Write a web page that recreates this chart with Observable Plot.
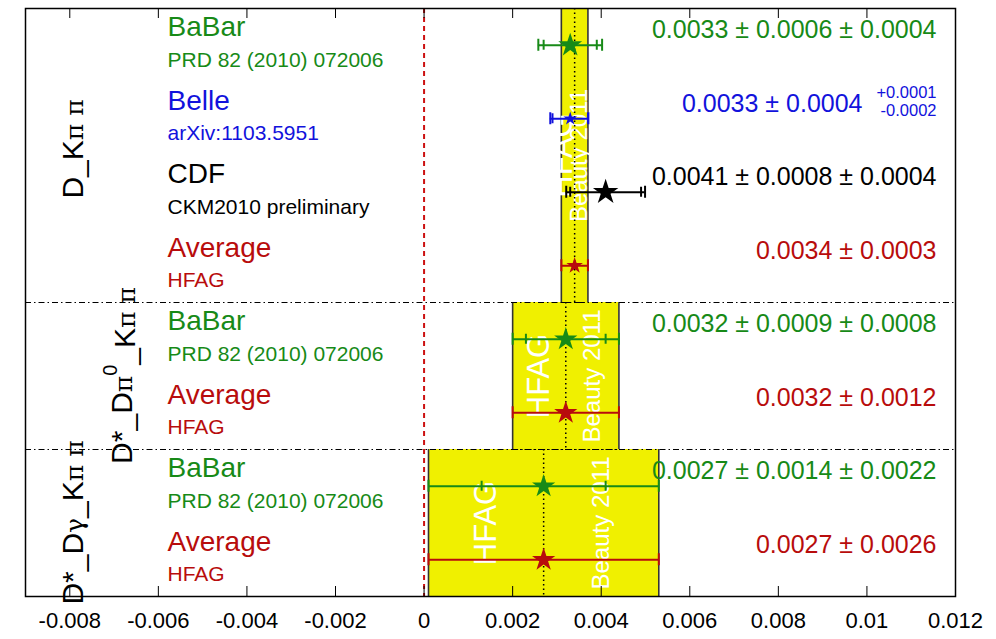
<!DOCTYPE html>
<html>
<head>
<meta charset="utf-8">
<script src="https://cdn.jsdelivr.net/npm/d3@7"></script>
<script src="https://cdn.jsdelivr.net/npm/@observablehq/plot@0.6"></script>
<style>
  html, body { margin: 0; padding: 0; background: #fff; }
  #chart { width: 996px; height: 639px; }
</style>
</head>
<body>
<div id="chart"></div>
<script>
// ---------- data ----------
const names    = ["BaBar", "Belle", "CDF", "Average", "BaBar", "Average", "BaBar", "Average"];
const refs     = ["PRD 82 (2010) 072006", "arXiv:1103.5951", "CKM2010 preliminary", "HFAG",
                  "PRD 82 (2010) 072006", "HFAG", "PRD 82 (2010) 072006", "HFAG"];
const values   = [0.0033, 0.0033, 0.0041, 0.0034, 0.0032, 0.0032, 0.0027, 0.0027];
const totalLo  = [0.00258, 0.00285, 0.00321, 0.0031, 0.0020, 0.0020, 0.0001, 0.0001];
const totalHi  = [0.00402, 0.00371, 0.00499, 0.0037, 0.0044, 0.0044, 0.0053, 0.0053];
const statLo   = [0.0027, 0.0029, 0.0033, null, 0.0023, null, 0.0013, null];
const statHi   = [0.0039, 0.0037, 0.0049, null, 0.0041, null, 0.0041, null];
const valueTexts = ["0.0033 ± 0.0006 ± 0.0004", "0.0033 ± 0.0004", "0.0041 ± 0.0008 ± 0.0004",
                    "0.0034 ± 0.0003", "0.0032 ± 0.0009 ± 0.0008", "0.0032 ± 0.0012",
                    "0.0027 ± 0.0014 ± 0.0022", "0.0027 ± 0.0026"];
const experiments = ["BaBar", "Belle", "CDF", "Average", "BaBar", "Average", "BaBar", "Average"];
const belleAsym = ["+0.0001", "-0.0002"];

const groupNames  = ["D_Kπ π", "D*_Dπ0_Kπ π", "D*_Dγ_Kπ π"];
const groupStart  = [0, 4, 6];
const groupEnd    = [4, 6, 8];
const groupAvg    = [0.0034, 0.0032, 0.0027];
const groupLo     = [0.0031, 0.0020, 0.0001];
const groupHi     = [0.0037, 0.0044, 0.0053];

const xTicks = [-0.008, -0.006, -0.004, -0.002, 0, 0.002, 0.004, 0.006, 0.008, 0.01, 0.012];

// ---------- styles ----------
const colorOf = {BaBar: "#178a17", Belle: "#1212dc", CDF: "#000000", Average: "#b80c0c"};
const starR = [7.5, 4.3, 8, 5.2, 7.3, 7.3, 7.3, 7.3];
const FONT = "'Liberation Sans', Arial, Helvetica, sans-serif";

const rows = names.map((n, i) => ({
  name: n, ref: refs[i], v: values[i], lo: totalLo[i], hi: totalHi[i],
  slo: statLo[i], shi: statHi[i], text: valueTexts[i], exp: experiments[i],
  color: colorOf[experiments[i]], y: i + 0.5, r: starR[i]
}));
const statRows = rows.filter(d => d.slo != null);
const groups = groupNames.map((g, i) => ({
  name: g, y1: groupStart[i], y2: groupEnd[i], yc: (groupStart[i] + groupEnd[i]) / 2,
  avg: groupAvg[i], lo: groupLo[i], hi: groupHi[i]
}));
// watermark positions (in data units) inside each band
const wmHfagX   = [0.00312, 0.0026, 0.0014];
const wmBeautyX = [0.0035, 0.0038, 0.0040];
const wm = groups.map((g, i) => ({hx: wmHfagX[i], bx: wmBeautyX[i], y: g.yc}));
const belleRow = rows[1];

// group label render mark (rotated, with serif greek letters & superscript)
const labelOffsets = [47, 96, 47];
function groupLabels(index, scales, values, dims) {
  const g = d3.create("svg:g");
  const pieces = [
    [["D_K", null], ["π π", "serif"]],
    [["D*_D", null], ["π", "serif"], ["0", "sup"], ["_K", null], ["π π", "serif"]],
    [["D*_D", null], ["γ", "serif"], ["_K", null], ["π π", "serif"]]
  ];
  groups.forEach((grp, i) => {
    const x = dims.marginLeft + labelOffsets[i];
    const y = scales.y(grp.yc) - (i === 0 ? 6 : 0);
    const t = g.append("text")
      .attr("transform", `translate(${x},${y}) rotate(-90)`)
      .attr("text-anchor", "middle")
      .attr("dy", "0.36em")
      .attr("font-family", FONT)
      .attr("font-size", 30)
      .attr("fill", "black");
    let afterSup = false;
    pieces[i].forEach(([s, kind]) => {
      const sp = t.append("tspan").text(s);
      if (kind === "serif") sp.attr("font-family", "'DejaVu Serif', 'Liberation Serif', serif").attr("font-size", 25);
      if (kind === "sup") { sp.attr("font-size", 20).attr("dy", "-0.75em"); afterSup = true; return; }
      if (afterSup) { sp.attr("dy", "0.6em"); afterSup = false; }
    });
  });
  return g.node();
}

const chart = Plot.plot({
  width: 996,
  height: 639,
  marginLeft: 25,
  marginRight: 41,
  marginTop: 8,
  marginBottom: 43,
  style: {fontFamily: FONT, background: "white", overflow: "visible"},
  x: {domain: [-0.009, 0.012], axis: null},
  y: {domain: [0, 8], reverse: true, axis: null},
  color: {type: "identity"},
  r: {type: "identity"},
  marks: [
    // yellow average bands
    Plot.rect(groups, {x1: "lo", x2: "hi", y1: "y1", y2: "y2", fill: "#f0f000"}),
    Plot.ruleX(groups, {x: "lo", y1: "y1", y2: "y2", stroke: "#333", strokeWidth: 1.6}),
    Plot.ruleX(groups, {x: "hi", y1: "y1", y2: "y2", stroke: "#333", strokeWidth: 1.6}),
    // watermark
    Plot.text(wm, {x: "hx", y: "y", text: () => "HFAG", rotate: -90, fill: "white", fontSize: 31}),
    Plot.text(wm, {x: "bx", y: "y", text: () => "Beauty 2011", rotate: -90, fill: "white", fontSize: 24}),
    // centre dotted line
    Plot.ruleX(groups, {x: "avg", y1: "y1", y2: "y2", stroke: "black", strokeWidth: 1.5, strokeDasharray: "1.5,3"}),
    // zero line
    Plot.ruleX([0], {stroke: "#cc1111", strokeWidth: 2, strokeDasharray: "5,4"}),
    // separators
    Plot.ruleY(groupStart.slice(1), {stroke: "black", strokeWidth: 1, strokeDasharray: "6,3,1.5,3"}),
    Plot.ruleY(groups, {y: "y2", x1: "lo", x2: "hi", stroke: "black", strokeWidth: 1, strokeDasharray: "6,3,1.5,3"}),
    // error bars
    Plot.ruleY(rows, {y: "y", x1: "lo", x2: "hi", stroke: "color", strokeWidth: 2}),
    Plot.ruleX(rows, {x: "lo", y1: "y", y2: "y", insetTop: -6, insetBottom: -6, stroke: "color", strokeWidth: 2}),
    Plot.ruleX(rows, {x: "hi", y1: "y", y2: "y", insetTop: -6, insetBottom: -6, stroke: "color", strokeWidth: 2}),
    Plot.ruleX(statRows, {x: "slo", y1: "y", y2: "y", insetTop: -5, insetBottom: -5, stroke: "color", strokeWidth: 2}),
    Plot.ruleX(statRows, {x: "shi", y1: "y", y2: "y", insetTop: -5, insetBottom: -5, stroke: "color", strokeWidth: 2}),
    // stars
    Plot.dot(rows, {x: "v", y: "y", symbol: "star", r: "r", fill: "color", stroke: null}),
    // labels
    Plot.text(rows, {y: "y", text: "name", frameAnchor: "left", textAnchor: "start", dx: 142, dy: -18, fill: "color", fontSize: 28}),
    Plot.text(rows, {y: "y", text: "ref", frameAnchor: "left", textAnchor: "start", dx: 142, dy: 15, fill: "color", fontSize: 21}),
    Plot.text(rows.filter(d => d.exp !== "Belle"), {y: "y", text: "text", frameAnchor: "right", textAnchor: "end", dx: -19, dy: -15, fill: "color", fontSize: 25}),
    Plot.text([belleRow], {y: "y", text: "text", frameAnchor: "right", textAnchor: "end", dx: -93, dy: -15, fill: "color", fontSize: 25}),
    Plot.text([belleRow], {y: "y", text: () => belleAsym[0], frameAnchor: "right", textAnchor: "end", dx: -19, dy: -26, fill: "color", fontSize: 16.5}),
    Plot.text([belleRow], {y: "y", text: () => belleAsym[1], frameAnchor: "right", textAnchor: "end", dx: -19, dy: -8, fill: "color", fontSize: 16.5}),
    groupLabels,
    // axis
    Plot.axisX({ticks: xTicks, tickSize: 0, tickPadding: 16, fontSize: 22, tickFormat: d => String(+d.toFixed(4))}),
    Plot.ruleX(xTicks, {insetTop: 578, stroke: "black", strokeWidth: 1}),
    Plot.ruleX(xTicks, {insetBottom: 578, stroke: "black", strokeWidth: 1}),
    Plot.frame({stroke: "black", strokeWidth: 1.5})
  ]
});
document.getElementById("chart").appendChild(chart);
</script>
</body>
</html>
